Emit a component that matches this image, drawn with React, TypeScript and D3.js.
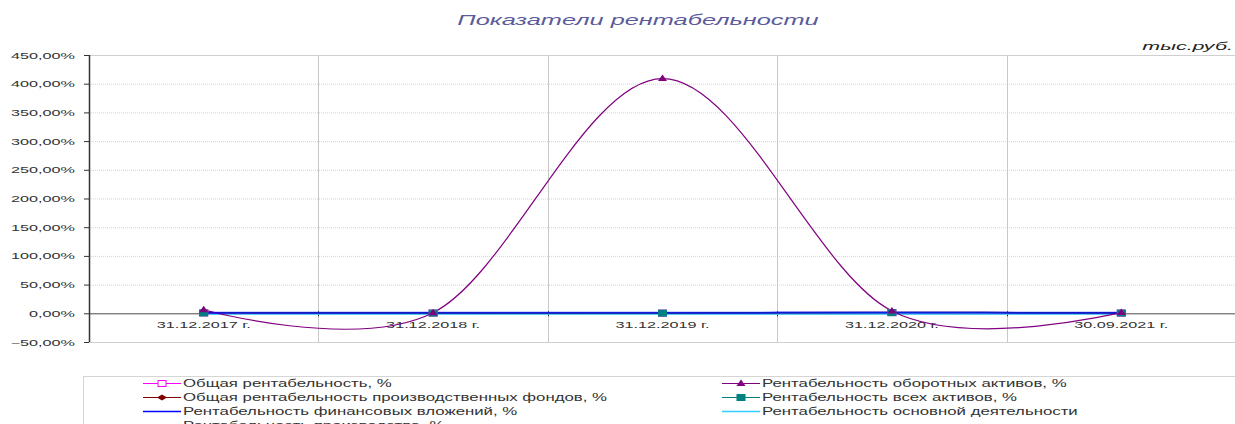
import React, { useRef, useEffect } from "react";
import * as d3 from "d3";

const categories = ["31.12.2017 г.", "31.12.2018 г.", "31.12.2019 г.", "31.12.2020 г.", "30.09.2021 г."];
const yTicks = [-50, 0, 50, 100, 150, 200, 250, 300, 350, 400, 450];

// values, %
const obshaya = [0.6, 0.4, 0.3, 1.2, 0.4];
const proizvFondov = [1.0, 0.6, 0.5, 1.8, 0.6];
const finVlozheniy = [1.0, 0.9, 0.9, 1.4, 0.8];
const proizvodstva = [0.1, 0.1, 0.1, 0.2, 0.1];
const oborotnyh = [6, 1, 409, 4, 1.5];
const vsehAktivov = [0.6, 0.4, 0.3, 1.1, 0.4];
const osnovnoy = [-0.8, -0.8, -0.8, -0.7, -0.8];

const series = [
  { name: "Общая рентабельность, %", values: obshaya, color: "#ff00ff", marker: "hsquare", col: 0, row: 0 },
  { name: "Общая рентабельность производственных фондов, %", values: proizvFondov, color: "#800000", marker: "diamond", col: 0, row: 1 },
  { name: "Рентабельность финансовых вложений, %", values: finVlozheniy, color: "#0000ff", marker: "none", col: 0, row: 2 },
  { name: "Рентабельность производства, %", values: proizvodstva, color: "#ccffff", marker: "none", col: 0, row: 3 },
  { name: "Рентабельность оборотных активов, %", values: oborotnyh, color: "#800080", marker: "triangle", col: 1, row: 0 },
  { name: "Рентабельность всех активов, %", values: vsehAktivov, color: "#008080", marker: "square", col: 1, row: 1 },
  { name: "Рентабельность основной деятельности", values: osnovnoy, color: "#33ccff", marker: "none", col: 1, row: 2 },
];

const drawOrder = [3, 6, 0, 1, 5, 4, 2];

const App = () => {
  const ref = useRef(null);

  useEffect(() => {
    const W = 1235, H = 424;
    const svg = d3.select(ref.current);
    svg.selectAll("*").remove();
    svg.attr("width", W).attr("height", H);
    const font = "'Liberation Sans', Arial, sans-serif";

    const x = d3.scaleBand().domain(categories).range([89, 1236]);
    const y = d3.scaleLinear().domain([-50, 450]).range([342, 55]);

    // stretched text helper
    const label = (g, tx, ty, str, size, sx, anchor, opts = {}) =>
      g.append("text")
        .attr("transform", `translate(${tx},${ty}) scale(${sx},1)`)
        .attr("text-anchor", anchor)
        .style("font-family", font)
        .style("font-size", size + "px")
        .style("font-style", opts.italic ? "italic" : "normal")
        .attr("fill", opts.fill || "#333")
        .text(str);

    // title
    label(svg, 638, 25, "Показатели рентабельности", 15, 1.69, "middle", { italic: true, fill: "#5b5b9b" });
    label(svg, 1233, 50, "тыс.руб.", 11, 1.95, "end", { italic: true, fill: "#222" });

    // horizontal grid
    svg.append("g").selectAll("line").data(yTicks).enter().append("line")
      .attr("x1", 89).attr("x2", 1235)
      .attr("y1", (d) => y(d) + 0.5).attr("y2", (d) => y(d) + 0.5)
      .attr("stroke", (d) => (d === 450 || d === -50 ? "#cfcfcf" : "#d4d4d4"))
      .attr("stroke-dasharray", (d) => (d === 450 || d === -50 ? null : "1,1"));

    // vertical grid
    svg.append("g").selectAll("line").data(categories.slice(1)).enter().append("line")
      .attr("x1", (d) => Math.round(x(d)) + 0.5).attr("x2", (d) => Math.round(x(d)) + 0.5)
      .attr("y1", y(450)).attr("y2", y(-50))
      .attr("stroke", "#c8c8c8");

    // zero line
    svg.append("line")
      .attr("x1", 89).attr("x2", 1235)
      .attr("y1", y(0) + 0.5).attr("y2", y(0) + 0.5)
      .attr("stroke", "#555");
    svg.append("g").selectAll("line").data(categories.slice(1)).enter().append("line")
      .attr("x1", (d) => Math.round(x(d)) + 0.5).attr("x2", (d) => Math.round(x(d)) + 0.5)
      .attr("y1", y(0) - 2).attr("y2", y(0) + 3)
      .attr("stroke", "#222");

    // y axis
    svg.append("line")
      .attr("x1", 89.5).attr("x2", 89.5).attr("y1", y(450)).attr("y2", y(-50))
      .attr("stroke", "#333").attr("stroke-width", 1.5);
    const yg = svg.append("g");
    yTicks.forEach((t) => {
      yg.append("line").attr("x1", 84).attr("x2", 89).attr("y1", y(t) + 0.5).attr("y2", y(t) + 0.5).attr("stroke", "#333");
      label(yg, 75, y(t) + 3.5, d3.format(".2f")(t).replace(".", ",") + "%", 9, 1.8, "end");
    });

    // category labels
    categories.forEach((c) => {
      label(svg, x(c) + x.bandwidth() / 2, 328, c, 9, 1.8, "middle");
    });

    const cx = (i) => x(categories[i]) + x.bandwidth() / 2;
    const line = d3.line().x((d, i) => cx(i)).y((d) => y(d)).curve(d3.curveCardinal.tension(0));

    const drawMarker = (g, type, px, py, color) => {
      if (type === "square" || type === "hsquare") {
        g.append("rect").attr("x", px - 4).attr("y", py - 3).attr("width", 8).attr("height", 6)
          .attr("fill", type === "square" ? color : "#fff").attr("stroke", color).attr("stroke-width", 1);
      } else if (type === "triangle") {
        g.append("path").attr("d", `M${px},${py - 4}L${px + 4.5},${py + 2.5}L${px - 4.5},${py + 2.5}Z`).attr("fill", color);
      } else if (type === "diamond") {
        g.append("path").attr("d", `M${px},${py - 3}L${px + 5},${py}L${px},${py + 3}L${px - 5},${py}Z`).attr("fill", color);
      }
    };

    const plot = svg.append("g");
    drawOrder.forEach((si) => {
      const s = series[si];
      plot.append("path").attr("d", line(s.values)).attr("fill", "none")
        .attr("stroke", s.color).attr("stroke-width", s.marker === "none" ? 2 : 1.2)
        .attr("stroke-opacity", si === 2 ? 0.7 : 1);
    });
    drawOrder.forEach((si) => {
      const s = series[si];
      s.values.forEach((v, i) => drawMarker(plot, s.marker, cx(i), y(v), s.color));
    });

    // legend
    const lg = svg.append("g");
    lg.append("rect").attr("x", 83.5).attr("y", 376.5).attr("width", 1160).attr("height", 100)
      .attr("fill", "none").attr("stroke", "#aaa").attr("stroke-dasharray", "1,1");
    const colX = [143, 722];
    series.forEach((s) => {
      const lx = colX[s.col];
      const ly = 383 + s.row * 14;
      lg.append("line").attr("x1", lx).attr("x2", lx + 38).attr("y1", ly + 0.5).attr("y2", ly + 0.5)
        .attr("stroke", s.color).attr("stroke-width", s.marker === "none" ? 1.5 : 1.2);
      drawMarker(lg, s.marker, lx + 19, ly + 0.5, s.color);
      label(lg, lx + 40, ly + 4, s.name, 10, 1.68, "start");
    });
  }, []);

  return <svg ref={ref} style={{ position: "absolute", left: 0, top: 0 }}></svg>;
};

export default App;
